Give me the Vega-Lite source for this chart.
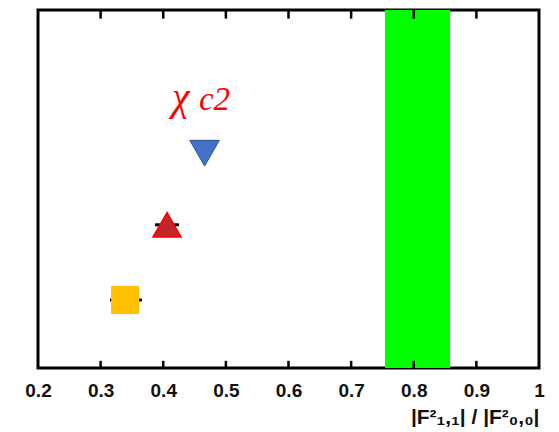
{
  "$schema": "https://vega.github.io/schema/vega-lite/v6.json",
  "width": 501,
  "height": 358,
  "padding": {"left": 24, "top": 8, "right": 10, "bottom": 0},
  "background": "white",
  "config": {
    "view": {"stroke": "black", "strokeWidth": 3},
    "axis": {"labelFont": "Liberation Sans", "titleFont": "Liberation Sans"}
  },
  "datasets": {
    "band": [{"lo": 0.754, "hi": 0.858}],
    "ticks": [{"t": 0.3}, {"t": 0.4}, {"t": 0.5}, {"t": 0.6}, {"t": 0.7}, {"t": 0.8}, {"t": 0.9}],
    "errs": [
      {"series": "red", "lo": 0.387, "hi": 0.425, "y": 2.0},
      {"series": "yellow", "lo": 0.315, "hi": 0.366, "y": 0.95}
    ],
    "pts": [
      {"series": "blue", "x": 0.466, "y": 3.0},
      {"series": "red", "x": 0.406, "y": 2.0},
      {"series": "yellow", "x": 0.339, "y": 0.95}
    ],
    "lbl": [
      {"part": "main", "text": "χ", "x": 0.414, "y": 3.6},
      {"part": "sub", "text": "c2", "x": 0.457, "y": 3.6}
    ]
  },
  "layer": [
    {
      "data": {"name": "band"},
      "mark": {"type": "rect", "color": "#00ff00"},
      "encoding": {
        "x": {
          "field": "lo", "type": "quantitative",
          "scale": {"domain": [0.2, 1], "nice": false, "zero": false},
          "axis": {
            "orient": "bottom", "values": [0.2, 0.3, 0.4, 0.5, 0.6, 0.7, 0.8, 0.9, 1],
            "format": "~g", "domain": false, "ticks": false, "grid": false,
            "labelFontSize": 19, "labelFontWeight": "bold", "labelColor": "#111",
            "labelPadding": 13, "labelFlush": false,
            "title": "|F²₁,₁| / |F²₀,₀|", "titleFontSize": 21, "titleFontWeight": "bold",
            "titleColor": "#111", "titleAnchor": "end", "titleAlign": "right", "titlePadding": 6
          }
        },
        "x2": {"field": "hi"}
      }
    },
    {
      "data": {"name": "ticks"},
      "mark": {"type": "rule", "color": "black", "strokeWidth": 2.5},
      "encoding": {
        "x": {"field": "t", "type": "quantitative"},
        "y": {"datum": 0, "type": "quantitative", "scale": {"domain": [0, 5]}, "axis": null},
        "y2": {"datum": 0.1}
      }
    },
    {
      "data": {"name": "ticks"},
      "mark": {"type": "rule", "color": "black", "strokeWidth": 2.5},
      "encoding": {
        "x": {"field": "t", "type": "quantitative"},
        "y": {"datum": 4.88, "type": "quantitative"},
        "y2": {"datum": 5}
      }
    },
    {
      "data": {"name": "errs"},
      "mark": {"type": "rule", "color": "black", "strokeWidth": 3},
      "encoding": {
        "x": {"field": "lo", "type": "quantitative"},
        "x2": {"field": "hi"},
        "y": {"field": "y", "type": "quantitative"}
      }
    },
    {
      "data": {"name": "pts"},
      "mark": {"type": "point", "filled": true, "opacity": 1},
      "encoding": {
        "x": {"field": "x", "type": "quantitative"},
        "y": {"field": "y", "type": "quantitative"},
        "shape": {"field": "series", "type": "nominal", "legend": null,
          "scale": {"domain": ["blue", "red", "yellow"], "range": ["triangle-down", "triangle-up", "square"]}},
        "fill": {"field": "series", "type": "nominal", "legend": null,
          "scale": {"domain": ["blue", "red", "yellow"], "range": ["#4472c4", "#c0262c", "#ffc000"]}},
        "stroke": {"field": "series", "type": "nominal", "legend": null,
          "scale": {"domain": ["blue", "red", "yellow"], "range": ["#2f528f", "#ff0000", "#ffc000"]}},
        "strokeWidth": {"field": "series", "type": "nominal", "legend": null,
          "scale": {"domain": ["blue", "red", "yellow"], "range": [1, 2.5, 0]}},
        "size": {"field": "series", "type": "nominal", "legend": null,
          "scale": {"domain": ["blue", "red", "yellow"], "range": [880, 650, 576]}}
      }
    },
    {
      "data": {"name": "lbl"},
      "transform": [{"filter": "datum.part === 'main'"}],
      "mark": {"type": "text", "font": "Liberation Serif", "fontStyle": "italic", "fontSize": 40, "color": "#ff0000", "align": "left", "baseline": "alphabetic"},
      "encoding": {
        "x": {"field": "x", "type": "quantitative"},
        "y": {"field": "y", "type": "quantitative"},
        "text": {"field": "text"}
      }
    },
    {
      "data": {"name": "lbl"},
      "transform": [{"filter": "datum.part === 'sub'"}],
      "mark": {"type": "text", "font": "Liberation Serif", "fontStyle": "italic", "fontSize": 33, "color": "#ff0000", "align": "left", "baseline": "alphabetic"},
      "encoding": {
        "x": {"field": "x", "type": "quantitative"},
        "y": {"field": "y", "type": "quantitative"},
        "text": {"field": "text"}
      }
    }
  ]
}
